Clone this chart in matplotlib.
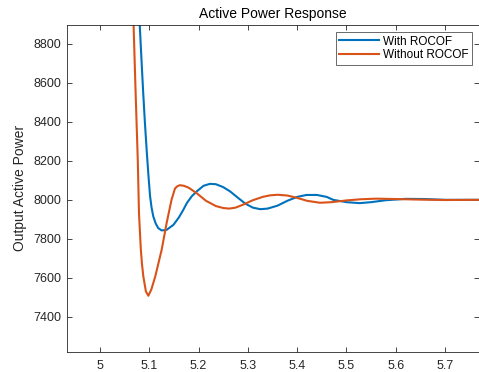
"""Active power response with and without ROCOF, MATLAB-style figure."""

import matplotlib
matplotlib.use("Agg")
import matplotlib.pyplot as plt

# values
time_with = [5.0790, 5.0805, 5.0840, 5.0875, 5.0910, 5.0947, 5.0980, 5.1014, 5.1045, 5.1080,
             5.1130, 5.1180, 5.1250, 5.1350, 5.1490, 5.1600, 5.1690, 5.1760, 5.1860, 5.1960,
             5.2100, 5.2230, 5.2350, 5.2500, 5.2640, 5.2800, 5.2950, 5.3100, 5.3250, 5.3400,
             5.3600, 5.3800, 5.4000, 5.4190, 5.4400, 5.4600, 5.4730, 5.5000, 5.5270, 5.5500,
             5.5800, 5.6200, 5.6600, 5.7000, 5.7700]
power_with = [9000, 8897, 8720, 8550, 8395, 8250, 8130, 8020, 7960, 7915,
              7878, 7855, 7843, 7846, 7872, 7910, 7949, 7983, 8018, 8043,
              8072, 8082, 8080, 8065, 8043, 8010, 7980, 7960, 7952, 7955,
              7970, 7995, 8015, 8025, 8025, 8015, 8000, 7988, 7983, 7988,
              7998, 8005, 8004, 8000, 8000]

time_without = [5.0660, 5.0680, 5.0720, 5.0765, 5.0790, 5.0826, 5.0850, 5.0878, 5.0930, 5.0980,
                5.1040, 5.1120, 5.1250, 5.1350, 5.1450, 5.1520, 5.1570, 5.1620, 5.1700, 5.1800,
                5.1960, 5.2150, 5.2350, 5.2500, 5.2620, 5.2750, 5.2900, 5.3100, 5.3300, 5.3450,
                5.3600, 5.3800, 5.4000, 5.4200, 5.4460, 5.4700, 5.5000, 5.5300, 5.5600, 5.6000,
                5.6500, 5.7000, 5.7700]
power_without = [9000, 8897, 8560, 8205, 7930, 7750, 7672, 7607, 7530, 7508,
                 7540, 7607, 7744, 7880, 8000, 8058, 8070, 8075, 8072, 8062,
                 8034, 7995, 7968, 7958, 7955, 7960, 7975, 7998, 8015, 8023,
                 8026, 8022, 8010, 7995, 7985, 7988, 7997, 8003, 8006, 8004,
                 8001, 7999, 8000]

x_ticks = [5.0, 5.1, 5.2, 5.3, 5.4, 5.5, 5.6, 5.7]
y_ticks = [7400, 7600, 7800, 8000, 8200, 8400, 8600, 8800]

plt.rcParams["font.family"] = ["Liberation Sans", "DejaVu Sans"]

fig = plt.figure(figsize=(4.79, 3.72), dpi=100)
ax = fig.add_axes([0.140, 0.054, 0.860, 0.879])

ax.plot(time_with, power_with, color="#0072BD", linewidth=1.5, label="With ROCOF")
ax.plot(time_without, power_without, color="#D95319", linewidth=1.5, label="Without ROCOF")

ax.set_xlim(4.933, 5.769)
ax.set_ylim(7220, 8897)
ax.set_xticks(x_ticks)
ax.set_xticklabels([f"{v:g}" for v in x_ticks])
ax.set_yticks(y_ticks)

for side in ax.spines.values():
    side.set_color("#262626")
    side.set_linewidth(0.6)
ax.tick_params(direction="in", length=3.5, width=0.6, colors="#262626",
               labelsize=9, top=True, right=True, pad=6)
ax.tick_params(axis="y", pad=4)

ax.set_title("Active Power Response", fontsize=10, color="black", pad=5)
ax.set_ylabel("Output Active Power", fontsize=10, color="#262626", labelpad=5)

leg = ax.legend(loc="upper right", fontsize=8.5, frameon=True, fancybox=False,
                borderpad=0.3, labelspacing=0.15, handlelength=3.4, handletextpad=0.3,
                borderaxespad=0.6)
leg.get_frame().set_edgecolor("#262626")
leg.get_frame().set_linewidth(0.6)

fig.savefig("out.png", dpi=100)
